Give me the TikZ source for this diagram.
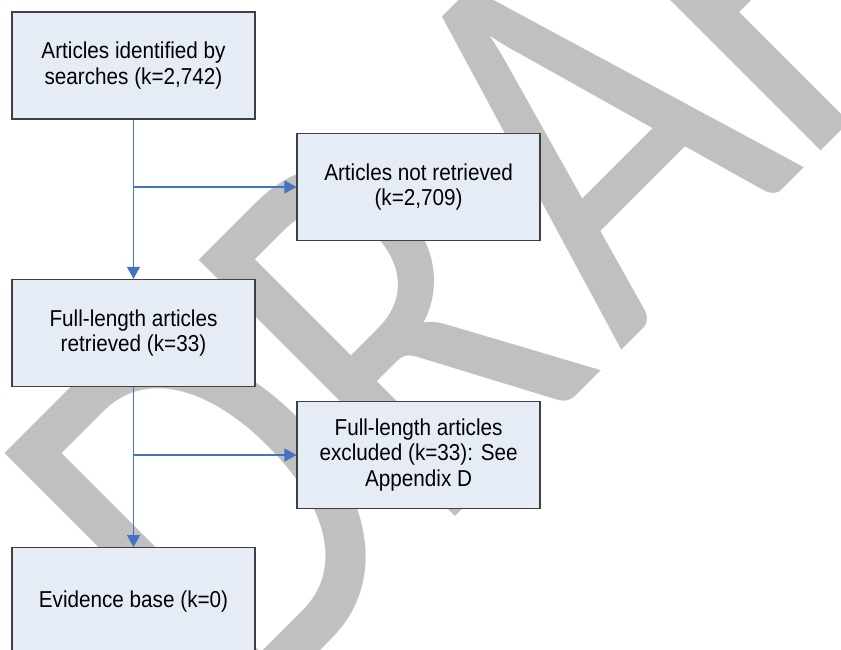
\documentclass[tikz,border=0pt]{standalone}
\usepackage{fontspec}
\setmainfont{Liberation Sans}[FakeStretch=0.9]
\newfontfamily\wmfont{Carlito}
\usetikzlibrary{arrows.meta}
\definecolor{boxfill}{RGB}{230,236,246}
\definecolor{boxline}{RGB}{64,64,64}
\definecolor{flowblue}{RGB}{68,114,196}
\definecolor{wmgray}{RGB}{192,192,192}
\begin{document}
\begin{tikzpicture}[x=1pt,y=-1pt,
  flowbox/.style={draw=boxline, line width=1.3pt, fill=boxfill,
    minimum width=243pt, minimum height=107pt, inner sep=2pt,
    align=center, text=black, font=\fontsize{23}{25.5}\selectfont},
  flow/.style={draw=flowblue, line width=1.1pt,
    -{Triangle[length=12pt,width=13pt]}},
  wmletter/.style={transform shape, anchor=base west, inner sep=0pt,
    text=wmgray, font=\wmfont\fontsize{565}{565}\selectfont}]
\useasboundingbox (0,0) rectangle (841,649);
\fill[white] (0,0) rectangle (841,649);

% diagonal watermark, letters set along a 45 degree baseline and stretched tall
\begin{scope}[shift={(262.4,709.4)}, rotate=45, xscale=0.8]
  \node[wmletter] (wmD) at (-40,0) {D};
  \node[wmletter] (wmR) at (300,0) {R};
  \node[wmletter, anchor=base] (wmA) at (796,0) {A};
  \node[wmletter] (wmF) at (949,0) {F};
  \node[wmletter] (wmT) at (1207.5,0) {T};
\end{scope}

% boxes
\node[flowbox] (found)    at (133.5,65.5) {Articles identified by\\searches (k=2,742)};
\node[flowbox] (notret)   at (418.6,187) {Articles not retrieved\\(k=2,709)};
\node[flowbox] (fulltext) at (133.5,333) {Full-length articles\\retrieved (k=33)};
\node[flowbox] (excl)     at (418.6,455) {Full-length articles\\excluded (k=33): See\\Appendix D};
\node[flowbox] (base)     at (133.5,601.2) {Evidence base (k=0)};

% connectors
\coordinate (split1) at (found.south |- notret.west);
\coordinate (split2) at (fulltext.south |- excl.west);
\draw[flow] (found.south) -- (fulltext.north);
\draw[flow] (split1) -- (notret.west);
\draw[flow] (fulltext.south) -- (base.north);
\draw[flow] (split2) -- (excl.west);
\end{tikzpicture}
\end{document}
